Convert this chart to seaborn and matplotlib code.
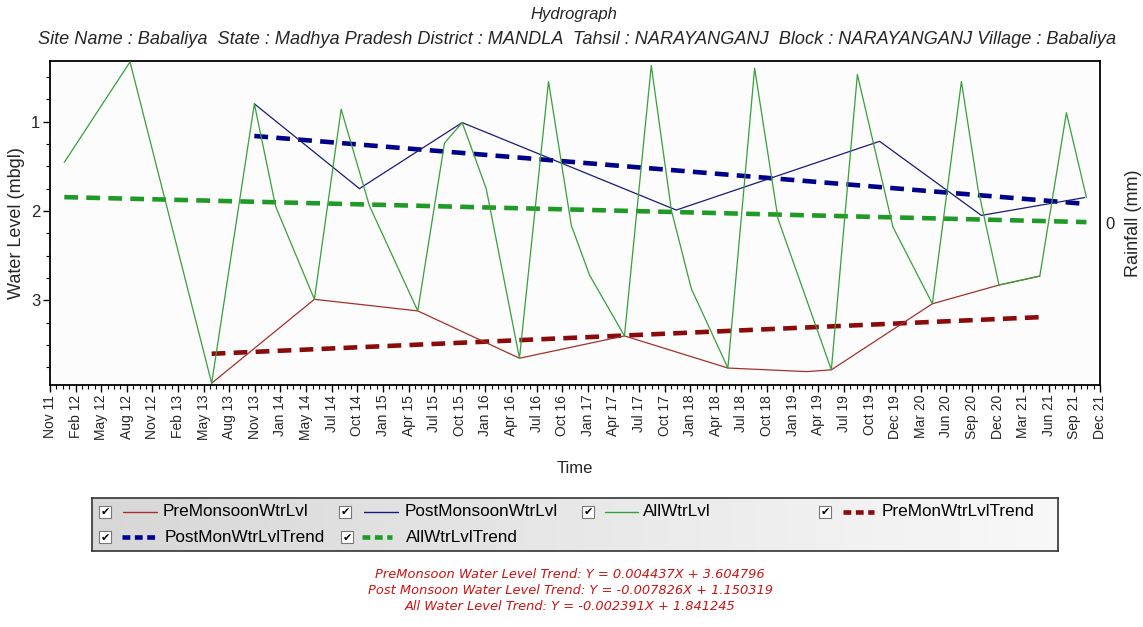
import numpy as np
import pandas as pd
import matplotlib
matplotlib.use("Agg")
import matplotlib.pyplot as plt
import seaborn as sns
from matplotlib.ticker import FixedLocator, AutoMinorLocator, MultipleLocator
from matplotlib.patches import Rectangle
from matplotlib.lines import Line2D

# ---------------- data (x = months since Nov 2011, y = water level mbgl) -------------
all_month = [1.65, 9.22, 18.63, 23.55, 26.0, 30.47, 33.55, 36.8, 42.38, 45.46, 47.5,
             50.27, 54.1, 57.45, 60.07, 62.18, 66.2, 69.29, 71.6, 73.9, 78.12, 81.2,
             83.9, 90.04, 93.04, 97.14, 101.68, 105.03, 106.94, 109.36, 114.06,
             117.13, 119.44]
all_level = [1.455, 0.33, 3.93, 0.80, 1.95, 2.99, 0.86, 1.94, 3.12, 1.24, 1.01,
             1.75, 3.65, 0.55, 2.16, 2.72, 3.40, 0.37, 1.99, 2.87, 3.76, 0.40,
             2.09, 3.78, 0.47, 2.18, 3.04, 0.55, 1.75, 2.83, 2.73,
             0.90, 1.85]

pre_month = [18.63, 30.47, 42.38, 54.1, 66.2, 78.12, 87.2, 90.04, 101.68, 109.36, 114.06]
pre_level = [3.93, 2.99, 3.12, 3.65, 3.40, 3.76, 3.80, 3.78, 3.04, 2.83, 2.73]

post_month = [23.55, 35.66, 47.5, 72.17, 95.6, 107.33, 119.24]
post_level = [0.80, 1.75, 1.01, 1.99, 1.22, 2.05, 1.85]

pre_trend_month = [18.63, 114.06]
pre_trend_level = [3.60, 3.19]
post_trend_month = [23.55, 119.24]
post_trend_level = [1.16, 1.92]
all_trend_month = [1.65, 119.44]
all_trend_level = [1.845, 2.125]

tick_labels = ["Nov 11", "Feb 12", "May 12", "Aug 12", "Nov 12", "Feb 13", "May 13",
               "Aug 13", "Nov 13", "Jan 14", "May 14", "Jul 14", "Oct 14", "Jan 15",
               "Apr 15", "Jul 15", "Oct 15", "Jan 16", "Apr 16", "Jul 16", "Oct 16",
               "Jan 17", "Apr 17", "Jul 17", "Oct 17", "Jan 18", "Apr 18", "Jul 18",
               "Oct 18", "Jan 19", "Apr 19", "Jul 19", "Oct 19", "Dec 19", "Mar 20",
               "Jun 20", "Sep 20", "Dec 20", "Mar 21", "Jun 21", "Sep 21", "Dec 21"]
axis_months = 121  # Nov 2011 -> Dec 2021

legend_labels = ["PreMonsoonWtrLvl", "PostMonsoonWtrLvl", "AllWtrLvl", "PreMonWtrLvlTrend",
                 "PostMonWtrLvlTrend", "AllWtrLvlTrend"]

title = "Hydrograph"
subtitle = ("Site Name : Babaliya  State : Madhya Pradesh District : MANDLA  Tahsil : "
            "NARAYANGANJ  Block : NARAYANGANJ Village : Babaliya")
trend_texts = ["PreMonsoon Water Level Trend: Y = 0.004437X + 3.604796",
               "Post Monsoon Water Level Trend: Y = -0.007826X + 1.150319",
               "All Water Level Trend: Y = -0.002391X + 1.841245"]

# ---------------- style -------------
sns.set_style("ticks")
plt.rcParams['font.family'] = ['Liberation Sans', 'DejaVu Sans']

C_PRE = "#A3302C"
C_POST = "#1A1A78"
C_ALL = "#36A03A"
C_PRE_T = "#8B0A0A"
C_POST_T = "#00008B"
C_ALL_T = "#1F9A26"

W, H = 1143, 627
fig = plt.figure(figsize=(W / 100, H / 100), dpi=100, facecolor="white")

L, R, T, B = 50, 1100, 61, 385
ax = fig.add_axes([L / W, 1 - B / H, (R - L) / W, (B - T) / H])
ax.set_facecolor("#FCFCFC")

df_all = pd.DataFrame({"month": all_month, "level": all_level})
df_pre = pd.DataFrame({"month": pre_month, "level": pre_level})
df_post = pd.DataFrame({"month": post_month, "level": post_level})
df_pre_t = pd.DataFrame({"month": pre_trend_month, "level": pre_trend_level})
df_post_t = pd.DataFrame({"month": post_trend_month, "level": post_trend_level})
df_all_t = pd.DataFrame({"month": all_trend_month, "level": all_trend_level})

dash = (0, (3.0, 1.8))
sns.lineplot(data=df_all_t, x="month", y="level", ax=ax, color=C_ALL_T, lw=3.3,
             linestyle=dash, zorder=2)
sns.lineplot(data=df_post_t, x="month", y="level", ax=ax, color=C_POST_T, lw=3.3,
             linestyle=dash, zorder=2)
sns.lineplot(data=df_pre_t, x="month", y="level", ax=ax, color=C_PRE_T, lw=3.3,
             linestyle=dash, zorder=2)
sns.lineplot(data=df_pre, x="month", y="level", ax=ax, color=C_PRE, lw=0.9, zorder=3)
sns.lineplot(data=df_post, x="month", y="level", ax=ax, color=C_POST, lw=0.9, zorder=3)
sns.lineplot(data=df_all, x="month", y="level", ax=ax, color=C_ALL, lw=0.9, zorder=4)

ax.set_xlim(0, axis_months)
ax.set_ylim(3.95, 0.32)
ax.xaxis.set_major_locator(FixedLocator(np.linspace(0, axis_months, len(tick_labels))))
ax.set_xticklabels(tick_labels, rotation=90, fontsize=10)
ax.xaxis.set_minor_locator(AutoMinorLocator(4))
ax.yaxis.set_major_locator(FixedLocator([1, 2, 3]))
ax.yaxis.set_minor_locator(MultipleLocator(0.25))
ax.tick_params(axis="both", which="major", direction="out", length=5, width=1,
               color="black", labelsize=12)
ax.tick_params(axis="y", which="major", pad=2)
ax.tick_params(axis="x", which="major", labelsize=10, pad=2)
ax.tick_params(axis="both", which="minor", direction="out", length=3, width=0.8,
               color="black")
for s in ax.spines.values():
    s.set_color("black")
    s.set_linewidth(1.3)
ax.set_xlabel("Time", fontsize=12)
ax.set_ylabel("Water Level (mbgl)", fontsize=13)
ax.yaxis.set_label_coords(-0.024, 0.5)
ax.xaxis.set_label_coords(0.5, -0.235)

ax2 = ax.twinx()
ax2.set_ylim(-1, 1)
ax2.yaxis.set_major_locator(FixedLocator([0]))
ax2.tick_params(axis="y", direction="out", length=0, pad=4, labelsize=12, color="black")
ax2.set_ylabel("Rainfall (mm)", fontsize=13)
ax2.yaxis.set_label_coords(1.024, 0.5)
for s in ax2.spines.values():
    s.set_visible(False)

# ---------------- titles -------------
fig.text(574 / W, 1 - 15 / H, title, ha="center", va="center", style="italic",
         fontsize=12)
fig.text(577 / W, 1 - 39 / H, subtitle, ha="center", va="center", style="italic",
         fontsize=13.1)

# ---------------- legend -------------
LL, LR, LT, LB = 92, 1058, 498, 551
lax = fig.add_axes([LL / W, 1 - LB / H, (LR - LL) / W, (LB - LT) / H])
grad = np.linspace(0.84, 0.97, 256)[None, :]
lax.imshow(grad, cmap="gray", vmin=0, vmax=1, aspect="auto",
           extent=[0, LR - LL, LB - LT, 0], zorder=0)
lax.set_xlim(0, LR - LL)
lax.set_ylim(LB - LT, 0)
lax.set_xticks([])
lax.set_yticks([])
for s in lax.spines.values():
    s.set_color("#333333")
    s.set_linewidth(1.2)

dash_leg = (0, (1.7, 1.0))
entries = [
    # (checkbox x, row y, line x0, line x1, text x, color, lw, style)
    (105, 14, 123, 157, 163, C_PRE, 1.0, "-"),
    (345, 14, 364, 398, 405, C_POST, 1.0, "-"),
    (588, 14, 605, 638, 643, C_ALL, 1.0, "-"),
    (825, 14, 843, 874, 882, C_PRE_T, 3.3, dash_leg),
    (105, 39, 122, 158, 165, C_POST_T, 3.3, dash_leg),
    (347, 39, 362, 392, 406, C_ALL_T, 3.3, dash_leg),
]
for (cx, ry, x0, x1, tx, col, lw, ls), lab in zip(entries, legend_labels):
    cx -= LL; x0 -= LL; x1 -= LL; tx -= LL
    lax.add_patch(Rectangle((cx - 6, ry - 6), 12, 12, facecolor="white",
                            edgecolor="#777777", lw=0.8, zorder=2))
    lax.text(cx, ry + 0.5, "\u2714", ha="center", va="center", fontsize=8,
             family="DejaVu Sans", color="black", zorder=3)
    lax.add_line(Line2D([x0, x1], [ry, ry], color=col, lw=lw, linestyle=ls, zorder=2))
    lax.text(tx, ry, lab, ha="left", va="center", fontsize=12.3, color="black", zorder=3)

# ---------------- trend equations -------------
for i, t in enumerate(trend_texts):
    fig.text(570 / W, 1 - (575 + 15.5 * i) / H, t, ha="center", va="center",
             style="italic", fontsize=9.35, color="#CC1515", family="DejaVu Sans")

fig.savefig("out.png", dpi=100, facecolor="white")
